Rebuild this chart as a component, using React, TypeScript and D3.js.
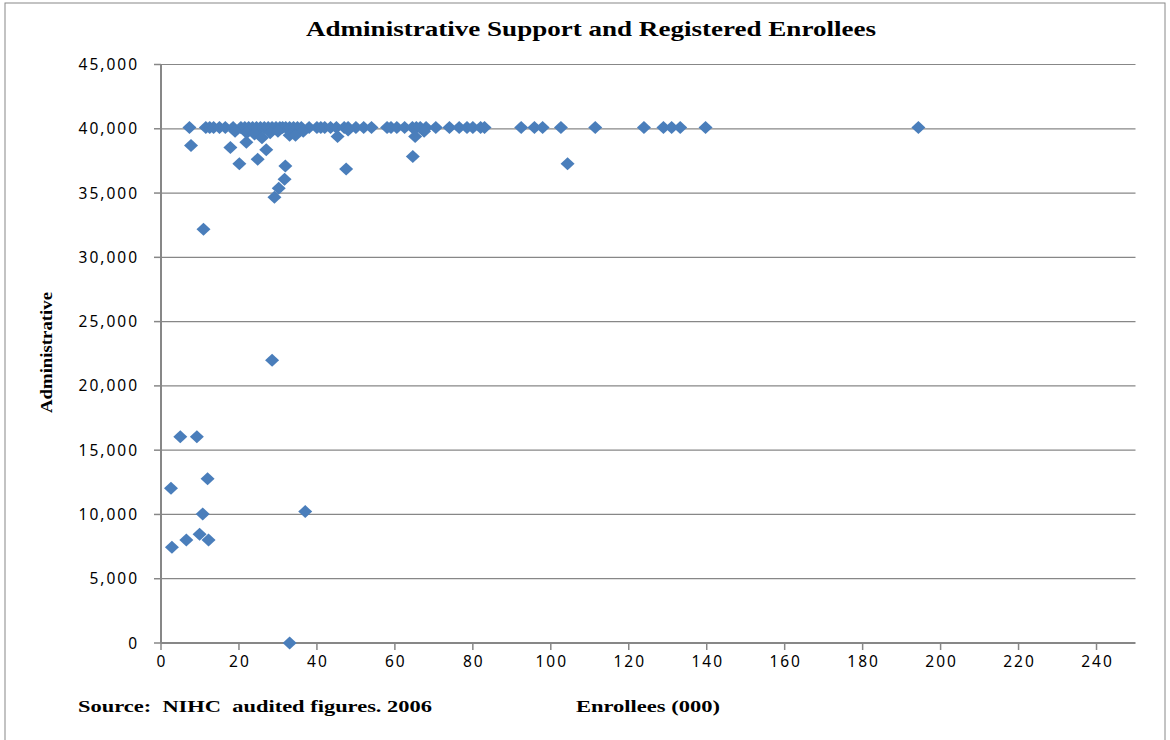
import React from "react";
import * as d3 from "d3";

const enrollees: number[] = [
  7.3, 11.5, 12.5, 13.5, 15, 16.5, 18.5, 20.5, 21.5, 22.5, 23.5, 24.5, 25.5, 26.5, 27.5, 28.5, 29.5, 30.5, 31.2, 32,
  33, 34, 35, 36, 38, 40, 41, 42, 43.5, 45, 47, 48, 50, 52, 54, 58, 59, 60.5, 62.5, 64.5,
  65.5, 66.5, 68, 70.5, 74, 76.5, 78.5, 80, 82, 83, 92.4, 95.8, 97.9, 102.6, 111.4, 123.9, 128.9, 131, 133.2, 139.7,
  194.3,
  19, 22, 24, 28, 30, 33, 34.5, 36.5, 45.3, 65.2, 67.5, 25.9, 21.9, 48,
  7.7, 17.8, 20.1, 24.8, 27, 31.9, 31.7, 30.2, 29.1, 47.5, 64.6, 104.3, 10.9, 28.5,
  4.95, 9.2, 11.95, 2.56, 10.7, 37, 2.8, 6.5, 9.9, 12.2, 33,
];
const administrative: number[] = [
  40100, 40100, 40100, 40100, 40100, 40100, 40100, 40100, 40100, 40100, 40100, 40100, 40100, 40100, 40100, 40100, 40100, 40100, 40100, 40100,
  40100, 40100, 40100, 40100, 40100, 40100, 40100, 40100, 40100, 40100, 40100, 40100, 40100, 40100, 40100, 40100, 40100, 40100, 40100, 40100,
  40100, 40100, 40100, 40100, 40100, 40100, 40100, 40100, 40100, 40100, 40100, 40100, 40100, 40100, 40100, 40100, 40100, 40100, 40100, 40100,
  40100,
  39800, 39700, 39600, 39700, 39800, 39500, 39500, 39800, 39400, 39400, 39800, 39300, 38950, 39900,
  38700, 38540, 37270, 37630, 38360, 37100, 36080, 35370, 34680, 36880, 37840, 37270, 32190, 22000,
  16050, 16050, 12780, 12030, 10040, 10220, 7440, 8010, 8460, 8010, 0,
];
const xTicks: number[] = [0, 20, 40, 60, 80, 100, 120, 140, 160, 180, 200, 220, 240];
const yTicks: number[] = [0, 5000, 10000, 15000, 20000, 25000, 30000, 35000, 40000, 45000];

const title = "Administrative Support and Registered Enrollees";
const yTitle = "Administrative";
const xTitle = "Enrollees (000)";
const source = "Source:  NIHC  audited figures. 2006";

export default function App() {
  const W = 1170, H = 740;
  const left = 161, right = 1135.5, top = 64.5, bottom = 643;
  const x = d3.scaleLinear().domain([0, 250]).range([left, right]);
  const y = d3.scaleLinear().domain([0, 45000]).range([bottom, top]);
  const fmt = d3.format(",");
  const grid = "#878787";
  const blue = "#4a7ebb";
  const diamond = "M0,-6.5L7,0L0,6.5L-7,0Z";
  const pts = enrollees.map((e, i) => ({ e, a: administrative[i] }));
  const serif = "'Liberation Serif', 'Times New Roman', serif";
  const sans = "'Noto Sans', 'Open Sans', sans-serif";

  return (
    <div style={{ position: "fixed", left: 0, top: 0 }}>
      <svg width={W} height={H} style={{ display: "block", background: "#fff" }}>
        <rect x={5} y={3} width={1160} height={800} fill="#fff" stroke="#888" strokeWidth={1} />
        <text x={306} y={36} fontFamily={serif} fontWeight="bold" fontSize={21} fill="#000"
          textLength={570} lengthAdjust="spacingAndGlyphs">{title}</text>
        {yTicks.map((t) => (
          <g key={"y" + t}>
            {t > 0 && <line x1={left} x2={right} y1={y(t)} y2={y(t)} stroke={grid} strokeWidth={1.2} />}
            <line x1={left - 7} x2={left} y1={y(t)} y2={y(t)} stroke={grid} strokeWidth={1.5} />
            <text x={139} y={y(t) + 5.5} textAnchor="end" fontFamily={sans} fontSize={15.5} letterSpacing={2} fill="#000">{fmt(t)}</text>
          </g>
        ))}
        {xTicks.map((t) => (
          <g key={"x" + t}>
            <line x1={x(t)} x2={x(t)} y1={bottom} y2={bottom + 7} stroke={grid} strokeWidth={1.5} />
            <text x={x(t) + 1} y={bottom + 24} textAnchor="middle" fontFamily={sans} fontSize={15.5} letterSpacing={2} fill="#000">{t}</text>
          </g>
        ))}
        <line x1={left} x2={left} y1={top} y2={bottom} stroke={grid} strokeWidth={2} />
        <line x1={left} x2={right} y1={bottom} y2={bottom} stroke={grid} strokeWidth={2} />
        {pts.map((p, i) => (
          <path key={i} d={diamond} transform={`translate(${x(p.e)},${y(p.a)})`} fill={blue} />
        ))}
        <text transform={`translate(52,413) rotate(-90)`} fontFamily={serif} fontWeight="bold" fontSize={17} fill="#000"
          textLength={121} lengthAdjust="spacingAndGlyphs">{yTitle}</text>
        <text x={78} y={712} fontFamily={serif} fontWeight="bold" fontSize={17} fill="#000" style={{ whiteSpace: "pre" }}
          textLength={354} lengthAdjust="spacingAndGlyphs">{source}</text>
        <text x={576} y={712} fontFamily={serif} fontWeight="bold" fontSize={17} fill="#000"
          textLength={144} lengthAdjust="spacingAndGlyphs">{xTitle}</text>
      </svg>
    </div>
  );
}
